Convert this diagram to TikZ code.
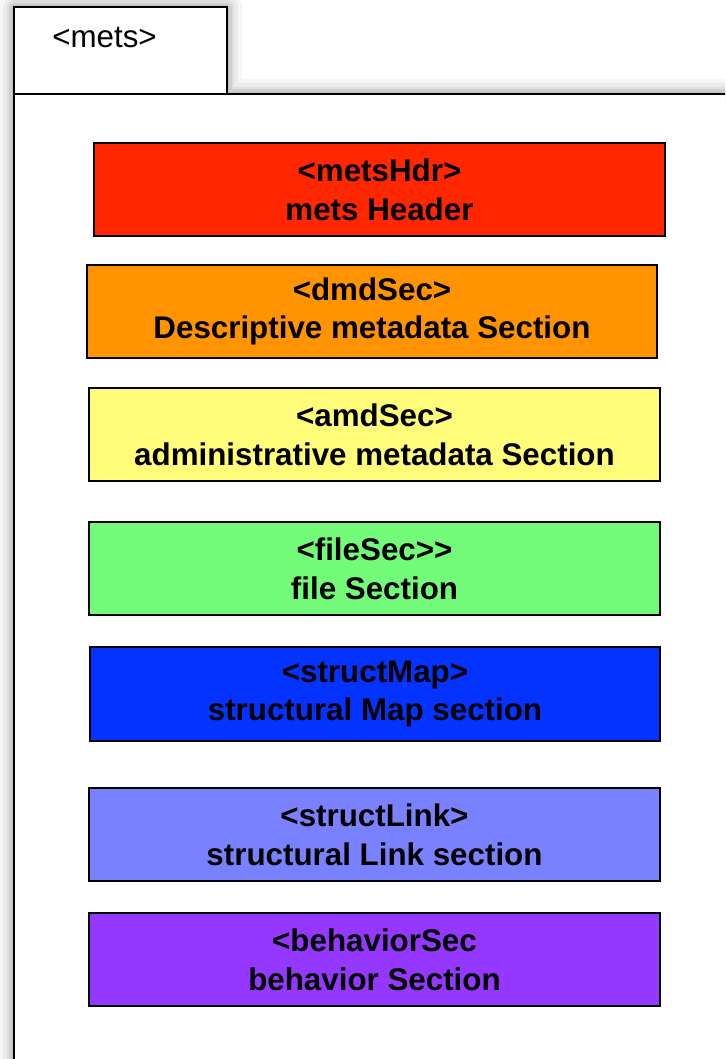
\documentclass[tikz,border=0pt]{standalone}
\usepackage{fontspec}
\setmainfont{Liberation Sans}
\definecolor{cred}{HTML}{FF2600}
\definecolor{corange}{HTML}{FF9300}
\definecolor{cyellow}{HTML}{FFFC79}
\definecolor{cgreen}{HTML}{73FA79}
\definecolor{cblue}{HTML}{0433FF}
\definecolor{clblue}{HTML}{7A81FF}
\definecolor{cpurple}{HTML}{9437FF}
\tikzset{
  secbox/.style={draw=black, line width=1.5pt, inner sep=0pt, align=center,
    minimum width=428pt, minimum height=70pt,
    font=\fontsize{23.5}{29}\selectfont\bfseries},
  frameline/.style={draw=black, line width=1.5pt},
  shadowline/.style={draw=black, line join=round}
}
\begin{document}
\begin{tikzpicture}[x=0.75pt,y=-0.75pt]
\useasboundingbox (0,0) rectangle (725,1059);
\clip (0,0) rectangle (725,1059);
% soft shadow of the outer frame
\foreach \w/\o in {22pt/0.035,16pt/0.045,11pt/0.055,7pt/0.065,3pt/0.08}{
  \draw[shadowline, line width=\w, opacity=\o]
    (14,1120) -- (14,7.5) -- (227,7.5) -- (227,94) -- (780,94);
}
\fill[white] (14,1120) -- (14,7.5) -- (227,7.5) -- (227,94) -- (780,94) -- (780,1120) -- cycle;
% tab and body
\draw[frameline] (14,7.5) rectangle (227,94);
\draw[frameline] (14,1120) -- (14,94) -- (780,94);
\node[anchor=base west, inner sep=0pt, font=\fontsize{23.5}{29}\selectfont] (metslabel) at (52,48) {<mets>};
% sections
\node[secbox, fill=cred]    (hdr)    at (379.5,189.5) {<metsHdr>\\mets Header};
\node[secbox, fill=corange] (dmd)    at (372,311.5)   {<dmdSec>\\Descriptive metadata Section};
\node[secbox, fill=cyellow] (amd)    at (374.5,434.5) {<amdSec>\\administrative metadata Section};
\node[secbox, fill=cgreen]  (file)   at (374.5,568.5) {<fileSec>{}>\\file Section};
\node[secbox, fill=cblue]   (smap)   at (375,694)     {<structMap>\\structural Map section};
\node[secbox, fill=clblue]  (slink)  at (374.5,834.5) {<structLink>\\structural Link section};
\node[secbox, fill=cpurple] (behav)  at (374.5,959.5) {<behaviorSec\\behavior Section};
\end{tikzpicture}
\end{document}
